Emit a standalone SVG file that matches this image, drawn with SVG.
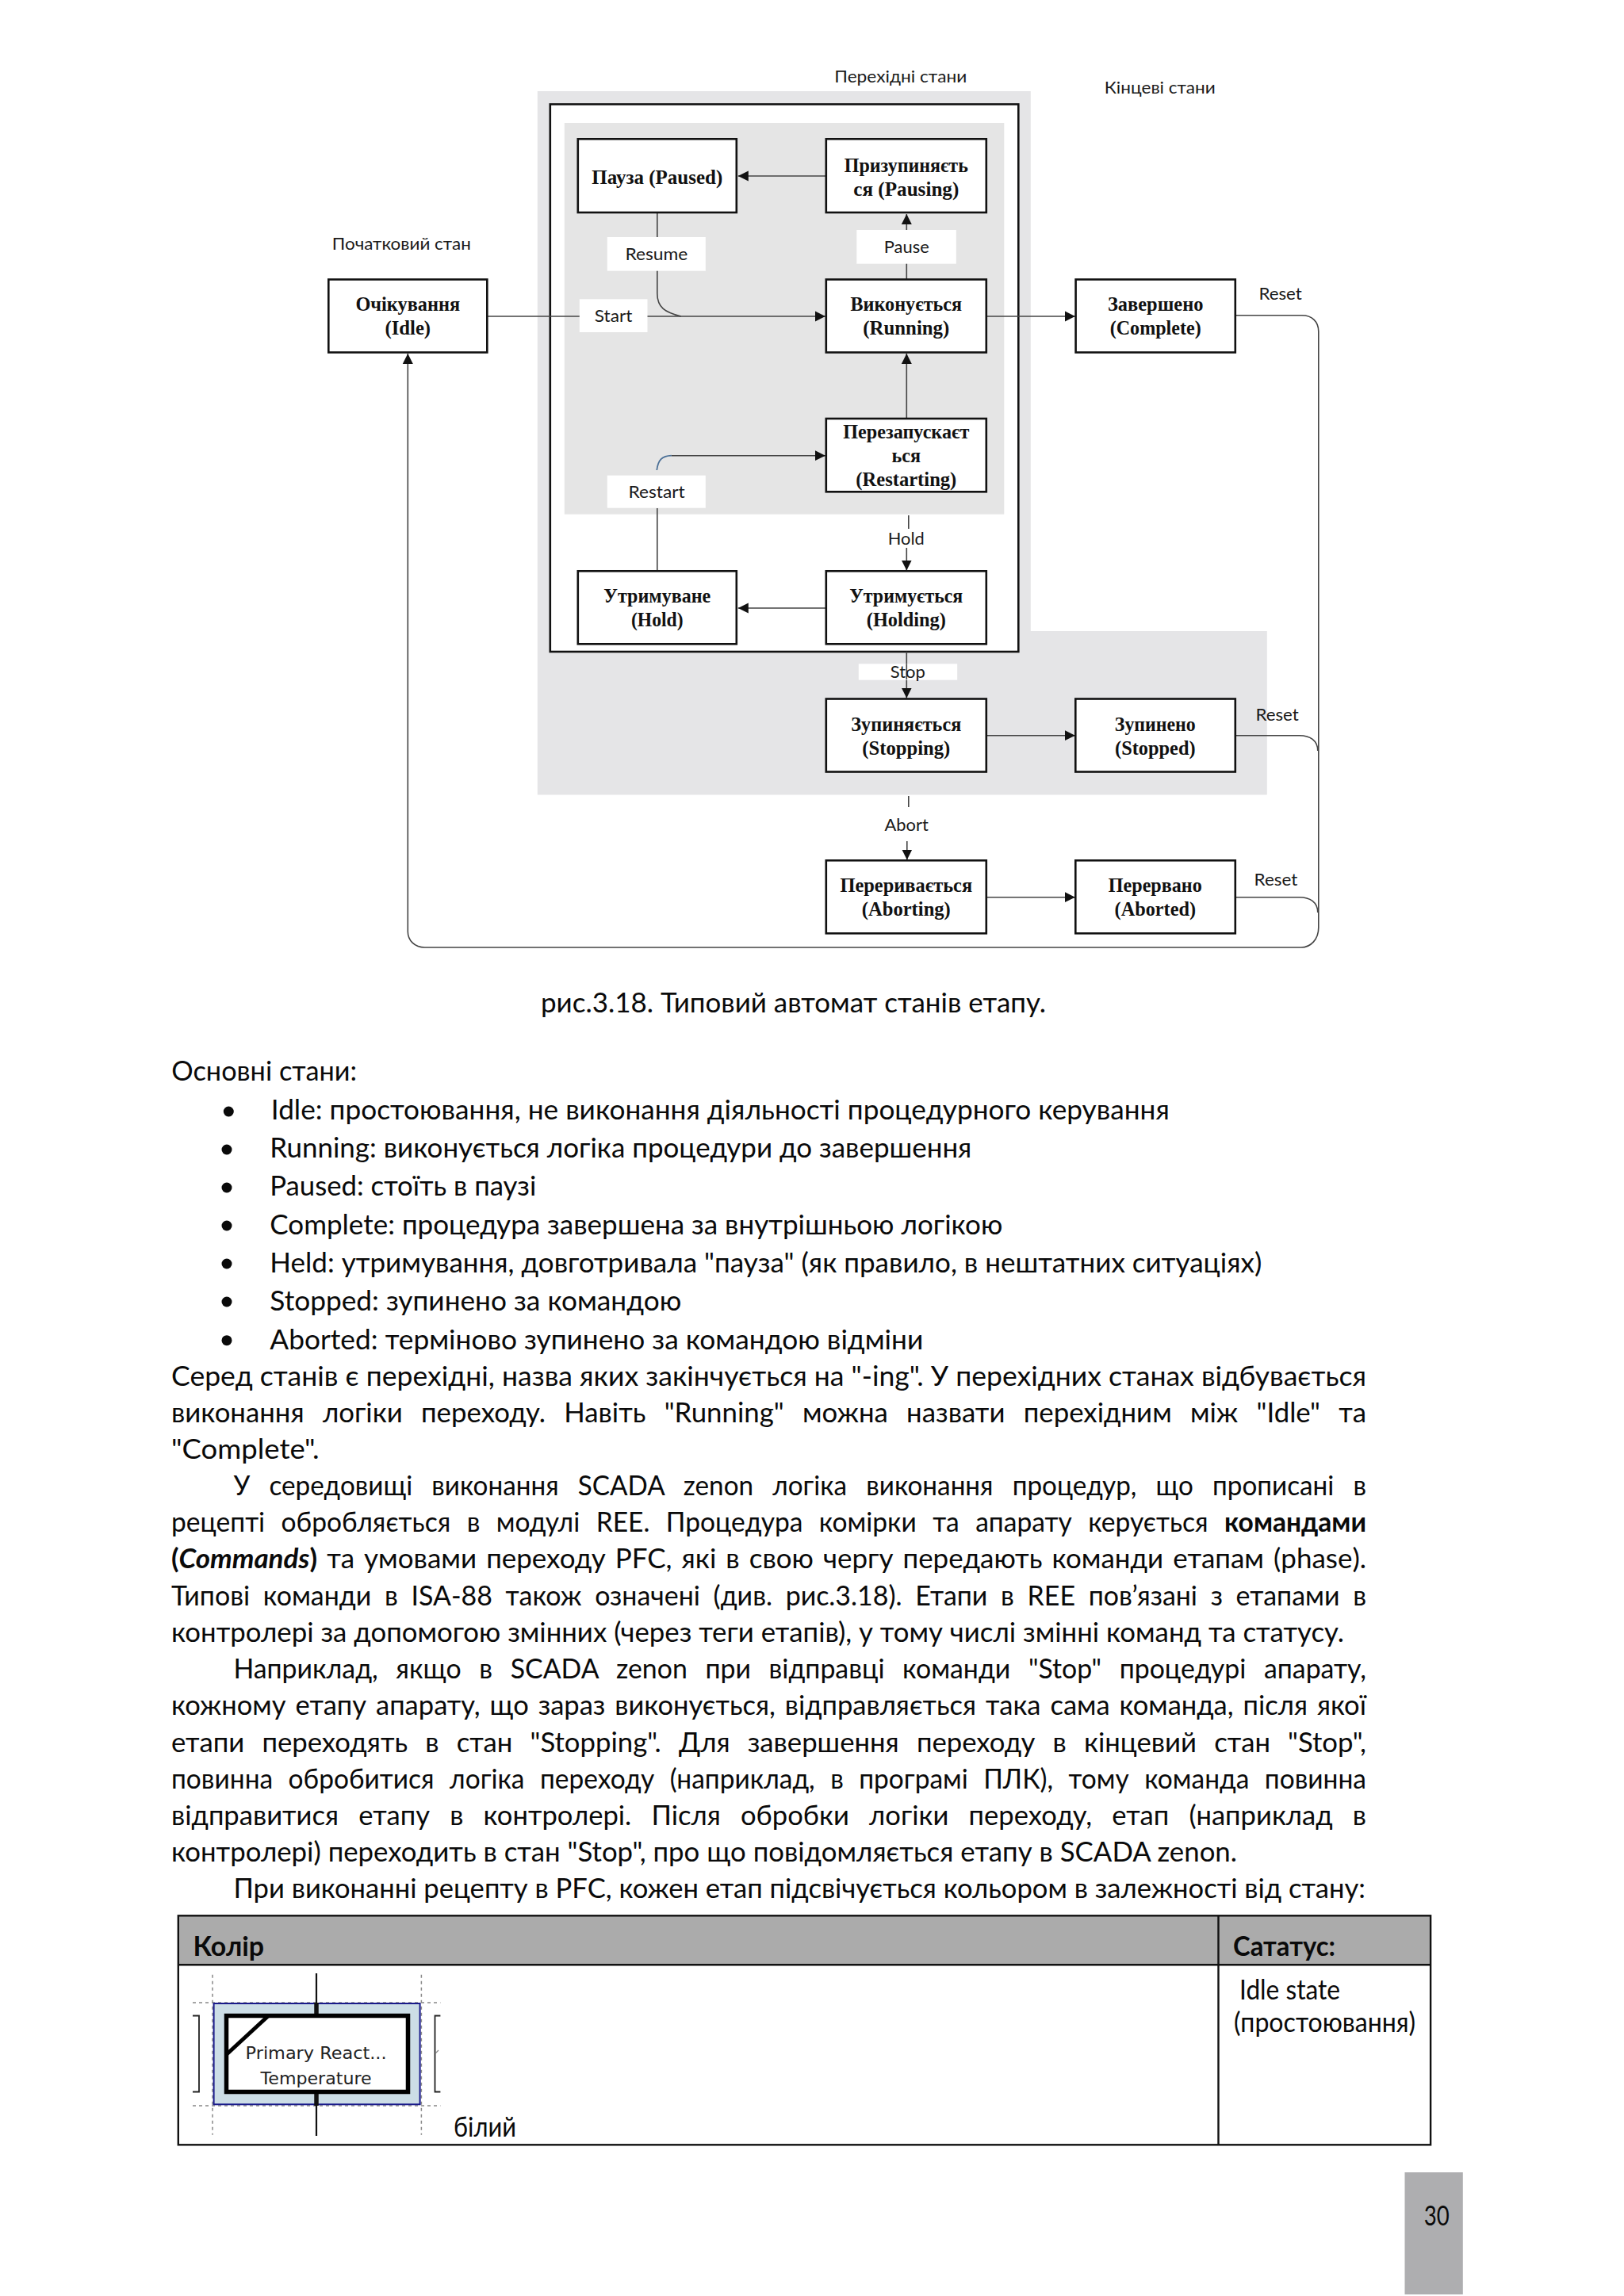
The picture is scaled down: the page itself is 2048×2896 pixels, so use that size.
<svg xmlns="http://www.w3.org/2000/svg" width="2048" height="2896" viewBox="0 0 2048 2896">
<style>
.box{fill:#fff;stroke:#111;stroke-width:2.6}
.st{font:bold 25.5px "Liberation Serif",serif;fill:#111;text-anchor:middle}
.lb{font:22px Lato,"Noto Sans",sans-serif;fill:#1a1a1a}
.c{fill:none;stroke:#444;stroke-width:1.6}
.w{fill:#fff}
.t{font:34px Lato,"Noto Sans",sans-serif;fill:#0a0a0a}
.b{font:bold 34px Lato,"Noto Sans",sans-serif;fill:#0a0a0a}
.bu{fill:#0a0a0a}
.d{stroke:#888;stroke-width:1.5;stroke-dasharray:4 4;fill:none}
.f{font:22px "DejaVu Sans",sans-serif;fill:#222}
</style>
<defs>
<marker id="a" markerUnits="userSpaceOnUse" markerWidth="14" markerHeight="14" refX="13" refY="7" orient="auto"><path d="M0 0.5L13 7L0 13.5Z" fill="#111"/></marker>
</defs>
<rect width="2048" height="2896" fill="#fff"/>
<g id="diagram" transform="translate(0.8 0)">
<g id="regions">
<path d="M677 115H1299V796H1597V1002.5H677Z" fill="#e5e5e7"/>
<rect x="693" y="131.5" width="590.5" height="690.5" fill="#fff" stroke="#111" stroke-width="2.6"/>
<rect x="711" y="155" width="554.5" height="493.7" fill="#e5e5e5"/>
<text class="lb" x="418" y="315" textLength="175" lengthAdjust="spacingAndGlyphs">Початковий стан</text>
<text class="lb" x="1051.5" y="104" textLength="167" lengthAdjust="spacingAndGlyphs">Перехідні стани</text>
<text class="lb" x="1392" y="118" textLength="140" lengthAdjust="spacingAndGlyphs">Кінцеві стани</text>
</g>
<g id="connectors">
<path class="c" d="M1041 222H930" marker-end="url(#a)"/>
<path class="c" d="M1142.5 352.5V270" marker-end="url(#a)"/>
<path class="c" d="M1142.5 528V446" marker-end="url(#a)"/>
<path class="c" d="M613.5 399H1040" marker-end="url(#a)"/>
<path class="c" d="M828 268V370C828 388 838 394 858 399"/>
<path class="c" d="M1243 399H1355" marker-end="url(#a)"/>
<path class="c" d="M828 720V641"/>
<path d="M827.5 593C829 580 834 575 846 574.7" fill="none" stroke="#4a6f96" stroke-width="1.8"/>
<path class="c" d="M846 574.7H1040" marker-end="url(#a)"/>
<path class="c" d="M1145 650V667"/>
<path class="c" d="M1142.5 691V719.5" marker-end="url(#a)"/>
<path class="c" d="M1041 767H930" marker-end="url(#a)"/>
<path class="c" d="M1142.5 822V880.5" marker-end="url(#a)"/>
<path class="c" d="M1243 927.7H1355" marker-end="url(#a)"/>
<path class="c" d="M1145 1004V1018"/>
<path class="c" d="M1143 1061V1084.5" marker-end="url(#a)"/>
<path class="c" d="M1243 1131.7H1355" marker-end="url(#a)"/>
<path class="c" d="M1557 397.7H1641C1654 397.7 1662 406 1662 418V1170C1662 1185 1652 1195 1640 1195H535C522 1195 513.5 1186 513.5 1175V446" marker-end="url(#a)"/>
<path class="c" d="M1557 927.7H1638C1651 927.7 1661 934 1661 947"/>
<path class="c" d="M1557 1131.7H1638C1651 1131.7 1661 1138 1661 1151"/>
</g>
<g id="labels">
<g id="l-resume"><rect class="w" x="765" y="299" width="124" height="42.7"/><text class="lb" x="787.6" y="328" textLength="79" lengthAdjust="spacingAndGlyphs">Resume</text></g>
<g id="l-start"><rect class="w" x="730" y="377.3" width="85.7" height="41.7"/><text class="lb" x="749" y="406" textLength="47.5" lengthAdjust="spacingAndGlyphs">Start</text></g>
<g id="l-pause"><rect class="w" x="1079.5" y="290" width="125.5" height="42.7"/><text class="lb" x="1114" y="319" textLength="57" lengthAdjust="spacingAndGlyphs">Pause</text></g>
<g id="l-restart"><rect class="w" x="765" y="599.7" width="124" height="41"/><text class="lb" x="791.7" y="627.7" textLength="71.3" lengthAdjust="spacingAndGlyphs">Restart</text></g>
<g id="l-hold"><text class="lb" x="1119" y="686.7" textLength="46" lengthAdjust="spacingAndGlyphs">Hold</text></g>
<g id="l-stop"><rect class="w" x="1082" y="837.3" width="124.4" height="20.4"/><path class="c" d="M1142.5 837.3V857"/><text class="lb" x="1122" y="855" textLength="44" lengthAdjust="spacingAndGlyphs">Stop</text></g>
<g id="l-abort"><text class="lb" x="1114.8" y="1047.7" textLength="55.2" lengthAdjust="spacingAndGlyphs">Abort</text></g>
<g id="l-reset1"><text class="lb" x="1586.6" y="378" textLength="54.4" lengthAdjust="spacingAndGlyphs">Reset</text></g>
<g id="l-reset2"><text class="lb" x="1582.6" y="909" textLength="54.4" lengthAdjust="spacingAndGlyphs">Reset</text></g>
<g id="l-reset3"><text class="lb" x="1580.8" y="1116.7" textLength="54.7" lengthAdjust="spacingAndGlyphs">Reset</text></g>
</g>
<g id="idle"><rect class="box" x="413.5" y="352.5" width="200" height="92"/><text class="st" x="513.5" y="391.7" textLength="131.7" lengthAdjust="spacingAndGlyphs">Очікування</text><text class="st" x="513.5" y="421.7" textLength="57.6" lengthAdjust="spacingAndGlyphs">(Idle)</text></g>
<g id="paused"><rect class="box" x="728" y="175.3" width="200" height="92.7"/><text class="st" x="828" y="231.7" textLength="165" lengthAdjust="spacingAndGlyphs">Пауза (Paused)</text></g>
<g id="pausing"><rect class="box" x="1041" y="175.3" width="202" height="92.7"/><text class="st" x="1142" y="216.7" textLength="156" lengthAdjust="spacingAndGlyphs">Призупиняєть</text><text class="st" x="1142" y="246.7" textLength="133" lengthAdjust="spacingAndGlyphs">ся (Pausing)</text></g>
<g id="running"><rect class="box" x="1041" y="352.5" width="202" height="92"/><text class="st" x="1142" y="391.7" textLength="140.6" lengthAdjust="spacingAndGlyphs">Виконується</text><text class="st" x="1142" y="421.7" textLength="109" lengthAdjust="spacingAndGlyphs">(Running)</text></g>
<g id="complete"><rect class="box" x="1355.8" y="352.5" width="201.2" height="92"/><text class="st" x="1456.4" y="391.7" textLength="120.5" lengthAdjust="spacingAndGlyphs">Завершено</text><text class="st" x="1456.4" y="421.7" textLength="115" lengthAdjust="spacingAndGlyphs">(Complete)</text></g>
<g id="restarting"><rect class="box" x="1041" y="528" width="202" height="92.3"/><text class="st" x="1142" y="552.7" textLength="159" lengthAdjust="spacingAndGlyphs">Перезапускаєт</text><text class="st" x="1142" y="583" textLength="36.6" lengthAdjust="spacingAndGlyphs">ься</text><text class="st" x="1142" y="612.7" textLength="127" lengthAdjust="spacingAndGlyphs">(Restarting)</text></g>
<g id="hold"><rect class="box" x="728" y="720.3" width="200" height="92"/><text class="st" x="828" y="760" textLength="135" lengthAdjust="spacingAndGlyphs">Утримуване</text><text class="st" x="828" y="790" textLength="65.6" lengthAdjust="spacingAndGlyphs">(Hold)</text></g>
<g id="holding"><rect class="box" x="1041" y="720.3" width="202" height="92"/><text class="st" x="1142" y="760" textLength="143" lengthAdjust="spacingAndGlyphs">Утримується</text><text class="st" x="1142" y="790" textLength="100" lengthAdjust="spacingAndGlyphs">(Holding)</text></g>
<g id="stopping"><rect class="box" x="1041" y="881.5" width="202" height="92"/><text class="st" x="1142" y="921.7" textLength="139" lengthAdjust="spacingAndGlyphs">Зупиняється</text><text class="st" x="1142" y="951.7" textLength="111" lengthAdjust="spacingAndGlyphs">(Stopping)</text></g>
<g id="stopped"><rect class="box" x="1355.5" y="881.5" width="201.5" height="92"/><text class="st" x="1456" y="921.7" textLength="102" lengthAdjust="spacingAndGlyphs">Зупинено</text><text class="st" x="1456" y="951.7" textLength="101.5" lengthAdjust="spacingAndGlyphs">(Stopped)</text></g>
<g id="aborting"><rect class="box" x="1041" y="1085.3" width="202" height="92"/><text class="st" x="1142" y="1125" textLength="166.7" lengthAdjust="spacingAndGlyphs">Переривається</text><text class="st" x="1142" y="1155" textLength="112" lengthAdjust="spacingAndGlyphs">(Aborting)</text></g>
<g id="aborted"><rect class="box" x="1355.5" y="1085.3" width="201.5" height="92"/><text class="st" x="1456" y="1125" textLength="118" lengthAdjust="spacingAndGlyphs">Перервано</text><text class="st" x="1456" y="1155" textLength="102.4" lengthAdjust="spacingAndGlyphs">(Aborted)</text></g>
</g>
<g id="body">
<text class="t" x="682" y="1277" textLength="637" lengthAdjust="spacingAndGlyphs">рис.3.18. Типовий автомат станів етапу.</text>
<text class="t" x="216.3" y="1363.3" textLength="233.7" lengthAdjust="spacingAndGlyphs">Основні стани:</text>
<circle class="bu" cx="288.3" cy="1402" r="6.5"/><text class="t" x="341.8" y="1412.3" textLength="1133" lengthAdjust="spacingAndGlyphs">Idle: простоювання, не виконання діяльності процедурного керування</text>
<circle class="bu" cx="286" cy="1450" r="6.5"/><text class="t" x="340.3" y="1460" textLength="885" lengthAdjust="spacingAndGlyphs">Running: виконується логіка процедури до завершення</text>
<circle class="bu" cx="286" cy="1498" r="6.5"/><text class="t" x="340.3" y="1508.3" textLength="336" lengthAdjust="spacingAndGlyphs">Paused: стоїть в паузі</text>
<circle class="bu" cx="286" cy="1546" r="6.5"/><text class="t" x="340.3" y="1556.7" textLength="924" lengthAdjust="spacingAndGlyphs">Complete: процедура завершена за внутрішньою логікою</text>
<circle class="bu" cx="286" cy="1594" r="6.5"/><text class="t" x="340.3" y="1605" textLength="1251" lengthAdjust="spacingAndGlyphs">Held: утримування, довготривала "пауза" (як правило, в нештатних ситуаціях)</text>
<circle class="bu" cx="286" cy="1642" r="6.5"/><text class="t" x="340.3" y="1653" textLength="519" lengthAdjust="spacingAndGlyphs">Stopped: зупинено за командою</text>
<circle class="bu" cx="286" cy="1690.7" r="6.5"/><text class="t" x="340.3" y="1701.7" textLength="824" lengthAdjust="spacingAndGlyphs">Aborted: терміново зупинено за командою відміни</text>
<text class="t" x="216" y="1748.3" textLength="1507" lengthAdjust="spacingAndGlyphs">Серед станів є перехідні, назва яких закінчується на "-ing". У перехідних станах відбувається</text>
<text class="t" x="216" y="1794.3" textLength="1507" lengthAdjust="spacingAndGlyphs" word-spacing="14">виконання логіки переходу. Навіть "Running" можна назвати перехідним між "Idle" та</text>
<text class="t" x="216" y="1840" textLength="186.5" lengthAdjust="spacingAndGlyphs">"Complete".</text>
<text class="t" x="294.4" y="1886" textLength="1428.6" lengthAdjust="spacingAndGlyphs" word-spacing="16">У середовищі виконання SCADA zenon логіка виконання процедур, що прописані в</text>
<text class="t" x="216" y="1932.3" textLength="1507" lengthAdjust="spacingAndGlyphs" word-spacing="12">рецепті обробляється в модулі REE. Процедура комірки та апарату керується <tspan class="b">командами</tspan></text>
<text class="t" x="216" y="1978.3" textLength="1507" lengthAdjust="spacingAndGlyphs" word-spacing="3"><tspan class="b">(<tspan font-style="italic">Commands</tspan>)</tspan> та умовами переходу PFC, які в свою чергу передають команди етапам (phase).</text>
<text class="t" x="216" y="2025" textLength="1507" lengthAdjust="spacingAndGlyphs" word-spacing="8">Типові команди в ISA-88 також означені (див. рис.3.18). Етапи в REE пов’язані з етапами в</text>
<text class="t" x="216" y="2070.7" textLength="1479" lengthAdjust="spacingAndGlyphs">контролері за допомогою змінних (через теги етапів), у тому числі змінні команд та статусу.</text>
<text class="t" x="294.4" y="2117.3" textLength="1428.6" lengthAdjust="spacingAndGlyphs" word-spacing="14">Наприклад, якщо в SCADA zenon при відправці команди "Stop" процедурі апарату,</text>
<text class="t" x="216" y="2163.3" textLength="1507" lengthAdjust="spacingAndGlyphs" word-spacing="3">кожному етапу апарату, що зараз виконується, відправляється така сама команда, після якої</text>
<text class="t" x="216" y="2210" textLength="1507" lengthAdjust="spacingAndGlyphs" word-spacing="13">етапи переходять в стан "Stopping". Для завершення переходу в кінцевий стан "Stop",</text>
<text class="t" x="216" y="2255.7" textLength="1507" lengthAdjust="spacingAndGlyphs" word-spacing="11">повинна обробитися логіка переходу (наприклад, в програмі ПЛК), тому команда повинна</text>
<text class="t" x="216" y="2301.7" textLength="1507" lengthAdjust="spacingAndGlyphs" word-spacing="16">відправитися етапу в контролері. Після обробки логіки переходу, етап (наприклад в</text>
<text class="t" x="216" y="2348.3" textLength="1344" lengthAdjust="spacingAndGlyphs">контролері) переходить в стан "Stop", про що повідомляється етапу в SCADA zenon.</text>
<text class="t" x="294.4" y="2394.3" textLength="1427.6" lengthAdjust="spacingAndGlyphs">При виконанні рецепту в PFC, кожен етап підсвічується кольором в залежності від стану:</text>
</g>
<g id="table">
<rect x="224.8" y="2416.3" width="1579.3" height="62" fill="#ababab"/>
<rect x="224.8" y="2416.3" width="1579.3" height="289" fill="none" stroke="#111" stroke-width="2.4"/>
<path d="M224.8 2478.3H1804.1M1536.5 2416.3V2705.3" fill="none" stroke="#111" stroke-width="2.4"/>
<text class="b" x="243.6" y="2466.7" textLength="89.4" lengthAdjust="spacingAndGlyphs">Колір</text>
<text class="b" x="1555" y="2466.7" textLength="129" lengthAdjust="spacingAndGlyphs">Сататус:</text>
<text class="t" x="1563" y="2521.7" textLength="127" lengthAdjust="spacingAndGlyphs">Idle state</text>
<text class="t" x="1556" y="2563" textLength="229" lengthAdjust="spacingAndGlyphs">(простоювання)</text>
<text class="t" x="572" y="2695" textLength="79" lengthAdjust="spacingAndGlyphs">білий</text>
<g id="phase-symbol">
<path class="d" d="M268 2490.7V2692.7M531.4 2490.7V2692.7M243 2526H555.4M243 2656H555.4"/>
<rect x="269.6" y="2527" width="260" height="127.3" fill="#ccdde6" stroke="#1a1a8a" stroke-width="2"/>
<path d="M399 2489V2526M399 2656V2694" stroke="#111" stroke-width="2.2"/>
<path d="M399 2526V2540M399 2641V2656" stroke="#111" stroke-width="5.5"/>
<rect x="285.5" y="2542.5" width="229" height="96" fill="#fff" stroke="#000" stroke-width="5.5"/>
<path d="M286 2591L338 2543" stroke="#000" stroke-width="5"/>
<text class="f" x="309.6" y="2597.3" textLength="178" lengthAdjust="spacingAndGlyphs">Primary  React...</text>
<text class="f" x="328.6" y="2629.3" textLength="140" lengthAdjust="spacingAndGlyphs">Temperature</text>
<path d="M243 2542.5H251V2638.5H243M555.4 2542.5H548.5V2638.5H555.4" fill="none" stroke="#222" stroke-width="1.8"/>
<path d="M549 2590L553 2586" stroke="#888" stroke-width="1.2"/>
</g>
</g>
<g id="page-number"><rect x="1771.5" y="2740" width="73.3" height="154" fill="#aeaeb0"/><text class="t" x="1795.7" y="2807" textLength="32" lengthAdjust="spacingAndGlyphs">30</text></g>
</svg>
